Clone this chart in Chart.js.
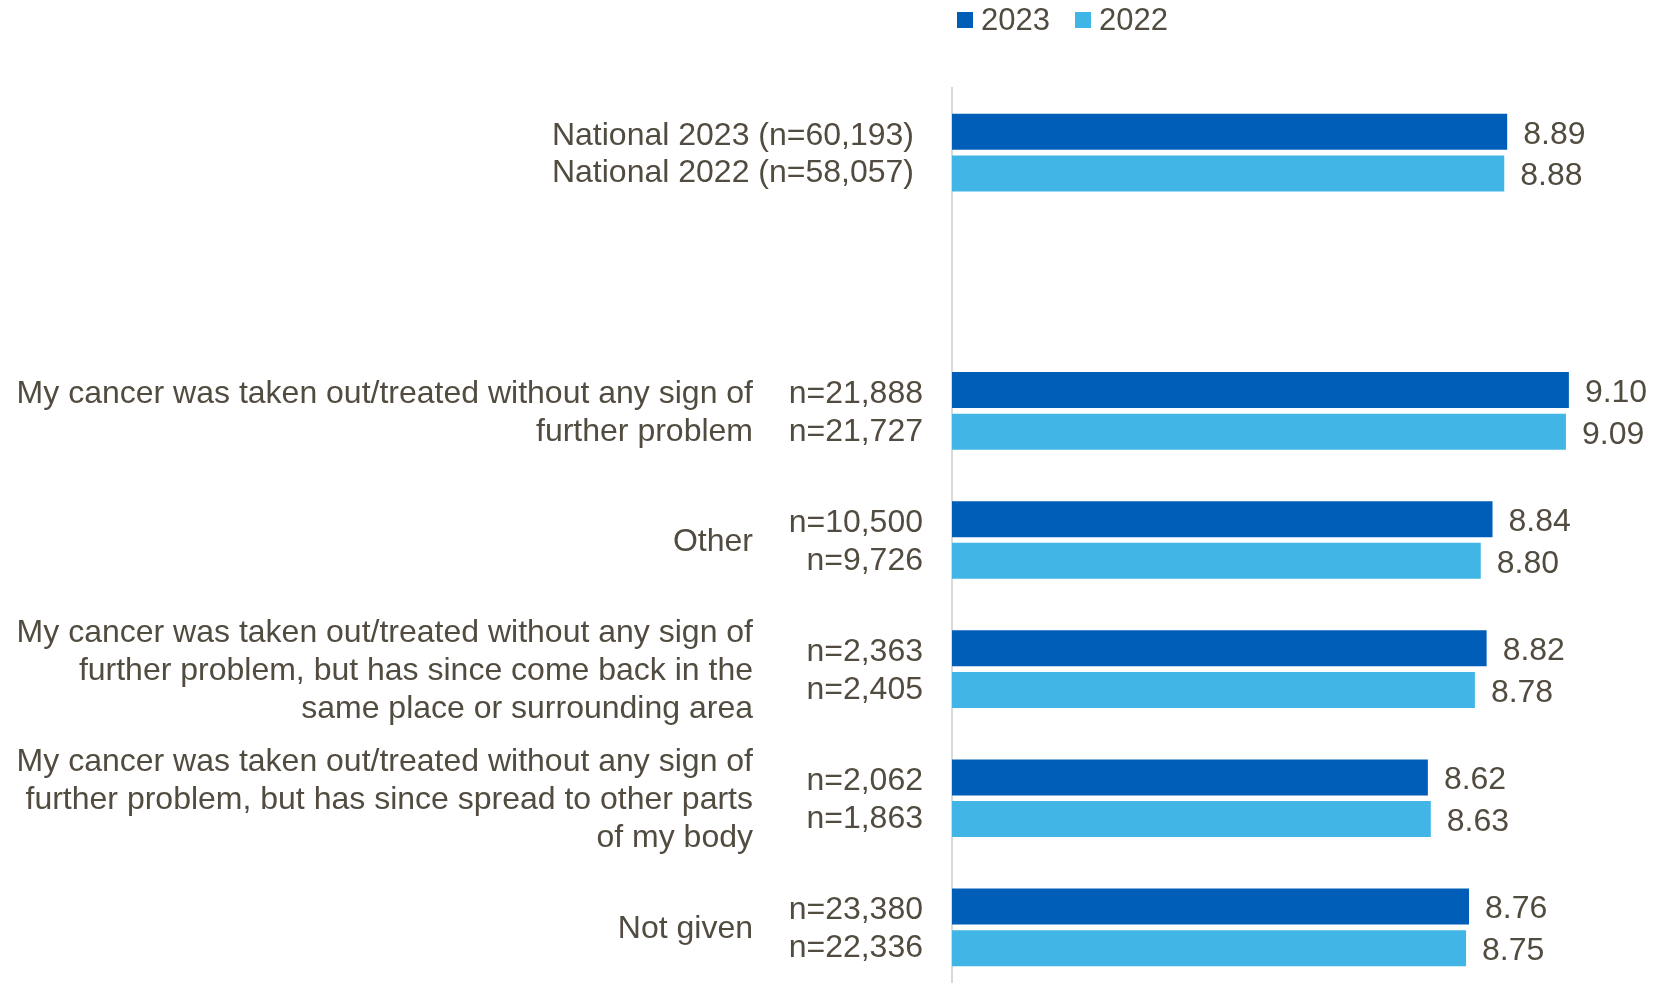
<!DOCTYPE html>
<html>
<head>
<meta charset="utf-8">
<script src="https://cdn.jsdelivr.net/npm/chart.js@4.4.1/dist/chart.umd.min.js"></script>
<style>
  html, body { margin: 0; padding: 0; background: #ffffff; overflow: hidden; }
  canvas { display: block; }
</style>
</head>
<body>
<canvas id="chart" width="1670" height="992"></canvas>
<script>
// Series names
const seriesNames = ['2023', '2022'];

// Category rows (index 1 is an empty spacer row below the national figures)
const categoryLabels = [
  [],
  [],
  ['My cancer was taken out/treated without any sign of', 'further problem'],
  ['Other'],
  ['My cancer was taken out/treated without any sign of', 'further problem, but has since come back in the', 'same place or surrounding area'],
  ['My cancer was taken out/treated without any sign of', 'further problem, but has since spread to other parts', 'of my body'],
  ['Not given']
];

// National comparison labels (first row)
const nationalLabels = ['National 2023 (n=60,193)', 'National 2022 (n=58,057)'];

// Respondent counts per row
const counts2023 = [null, null, '21,888', '10,500', '2,363', '2,062', '23,380'];
const counts2022 = [null, null, '21,727', '9,726', '2,405', '1,863', '22,336'];

// Mean scores
const scores2023 = [8.89, null, 9.10, 8.84, 8.82, 8.62, 8.76];
const scores2022 = [8.88, null, 9.09, 8.80, 8.78, 8.63, 8.75];

const COLOR_2023 = '#005EB8';
const COLOR_2022 = '#41B6E6';
const TEXT_COLOR = '#524b40';
const FONT_FAMILY = '"Liberation Sans", Arial, sans-serif';

const labelsPlugin = {
  id: 'rowLabels',
  afterDatasetsDraw(chart) {
    const ctx = chart.ctx;
    const yScale = chart.scales.y;
    const left = chart.chartArea.left;
    ctx.save();
    ctx.fillStyle = TEXT_COLOR;
    ctx.font = '32px ' + FONT_FAMILY;
    ctx.textBaseline = 'middle';

    // value labels at the end of each bar
    ctx.textAlign = 'left';
    chart.data.datasets.forEach((ds, di) => {
      const meta = chart.getDatasetMeta(di);
      meta.data.forEach((bar, i) => {
        const v = ds.data[i];
        if (v === null || v === undefined) return;
        ctx.fillText(v.toFixed(2), bar.x + 16, bar.y + 3);
      });
    });

    // category text, counts and national labels
    ctx.textAlign = 'right';
    categoryLabels.forEach((lines, i) => {
      const cy = yScale.getPixelForValue(i) + 2;
      const lineGap = 38;
      const start = cy - (lines.length - 1) * lineGap / 2;
      lines.forEach((t, k) => ctx.fillText(t, left - 199, start + k * lineGap));
      if (counts2023[i]) ctx.fillText('n=' + counts2023[i], left - 29, cy - 19);
      if (counts2022[i]) ctx.fillText('n=' + counts2022[i], left - 29, cy + 19);
    });
    const ny = yScale.getPixelForValue(0) + 2.5;
    ctx.fillText(nationalLabels[0], left - 38, ny - 18.5);
    ctx.fillText(nationalLabels[1], left - 38, ny + 18.5);

    // legend
    ctx.font = '31px ' + FONT_FAMILY;
    ctx.textAlign = 'left';
    ctx.textBaseline = 'alphabetic';
    const legendItems = [
      { x: 957, color: COLOR_2023, text: seriesNames[0] },
      { x: 1075, color: COLOR_2022, text: seriesNames[1] }
    ];
    legendItems.forEach(it => {
      ctx.fillStyle = it.color;
      ctx.fillRect(it.x, 12, 16, 16);
      ctx.fillStyle = TEXT_COLOR;
      ctx.fillText(it.text, it.x + 24, 29.5);
    });
    ctx.restore();
  }
};

new Chart(document.getElementById('chart'), {
  type: 'bar',
  data: {
    labels: categoryLabels.map((l, i) => 'row' + i),
    datasets: [
      { label: seriesNames[0], data: scores2023, backgroundColor: COLOR_2023,
        categoryPercentage: 0.645, barPercentage: 0.865 },
      { label: seriesNames[1], data: scores2022, backgroundColor: COLOR_2022,
        categoryPercentage: 0.645, barPercentage: 0.865 }
    ]
  },
  options: {
    indexAxis: 'y',
    responsive: false,
    animation: false,
    devicePixelRatio: 1,
    layout: { padding: { left: 952, top: 88, right: 13, bottom: 0 } },
    plugins: {
      legend: { display: false },
      tooltip: { enabled: false }
    },
    scales: {
      x: {
        display: false,
        min: 7,
        max: 9.4
      },
      y: {
        display: true,
        grid: { display: false },
        ticks: { display: false },
        border: { display: true, color: '#d9d9d9', width: 2 },
        afterFit(scale) { scale.width = 0; }
      }
    }
  },
  plugins: [labelsPlugin]
});
</script>
</body>
</html>
